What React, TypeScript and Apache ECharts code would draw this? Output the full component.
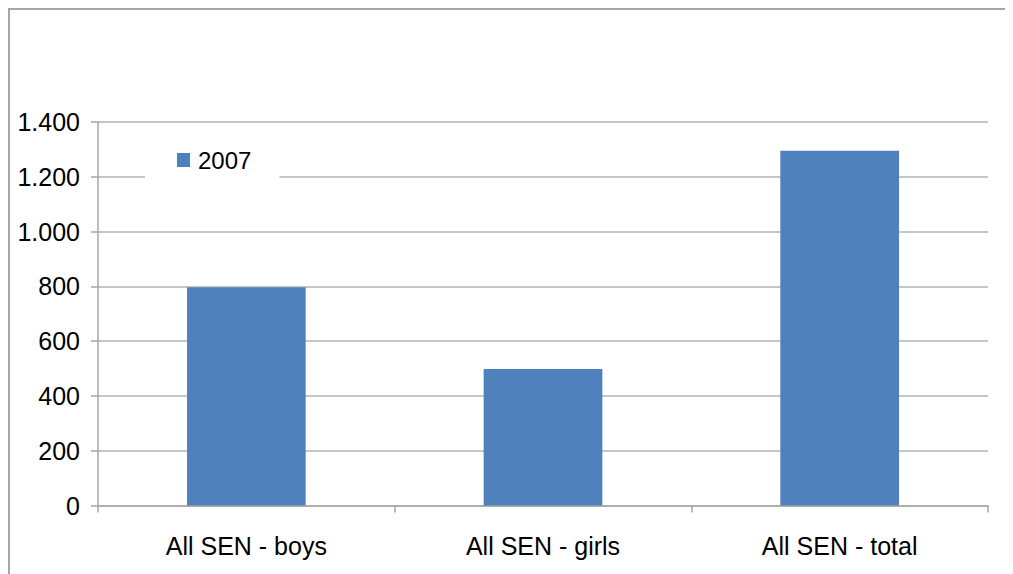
import React, { useEffect, useRef } from "react";
import * as echarts from "echarts";

const categories = ["All SEN - boys", "All SEN - girls", "All SEN - total"];
const seriesName = "2007";
const values2007 = [797, 498, 1295];
const yTicks = { min: 0, max: 1400, interval: 200 };

function fmt(v: number): string {
  const s = String(Math.round(v));
  return s.replace(/\B(?=(\d{3})+(?!\d))/g, ".");
}

export default function App() {
  const ref = useRef<HTMLDivElement>(null);
  useEffect(() => {
    if (!ref.current) return;
    const chart = echarts.init(ref.current, null, { renderer: "svg" });
    const font = "'Liberation Sans', Arial, sans-serif";
    chart.setOption({
      animation: false,
      backgroundColor: "#ffffff",
      textStyle: { fontFamily: font },
      grid: { left: 88, right: 25, top: 112, bottom: 68.5, containLabel: false, outerBoundsMode: "none" },
      legend: {
        show: true,
        left: 135,
        top: 123,
        z: 20,
        backgroundColor: "#ffffff",
        padding: [15, 28, 15, 32],
        itemWidth: 13,
        itemHeight: 14,
        itemGap: 10,
        icon: "rect",
        textStyle: { fontFamily: font, fontSize: 24, color: "#000", padding: [0, 0, 0, 3] },
        data: [seriesName],
      },
      xAxis: {
        type: "category",
        data: categories,
        boundaryGap: true,
        axisLine: { show: true, lineStyle: { color: "#a6a6a6", width: 1.5 } },
        axisTick: { show: true, length: 7, alignWithLabel: false, lineStyle: { color: "#a6a6a6", width: 1.5 } },
        axisLabel: { fontFamily: font, fontSize: 25, color: "#000", margin: 28 },
        splitLine: { show: false },
      },
      yAxis: {
        type: "value",
        min: yTicks.min,
        max: yTicks.max,
        interval: yTicks.interval,
        axisLine: { show: true, lineStyle: { color: "#a6a6a6", width: 1.5 } },
        axisTick: { show: true, length: 7, lineStyle: { color: "#a6a6a6", width: 1.5 } },
        axisLabel: { fontFamily: font, fontSize: 25, color: "#000", margin: 18, formatter: (v: number) => fmt(v) },
        splitLine: { show: true, lineStyle: { color: "#b3b3b3", width: 1.5 } },
      },
      series: [
        {
          name: seriesName,
          type: "bar",
          data: values2007,
          barWidth: "40%",
          itemStyle: { color: "#4f81bd" },
        },
      ],
    });
    return () => chart.dispose();
  }, []);
  return (
    <div
      style={{
        width: 1005,
        height: 566,
        boxSizing: "border-box",
        borderTop: "2px solid #a6a6a6",
        borderLeft: "2px solid #a6a6a6",
        overflow: "hidden",
      }}
    >
      <div ref={ref} style={{ width: 1003, height: 564 }} />
    </div>
  );
}
